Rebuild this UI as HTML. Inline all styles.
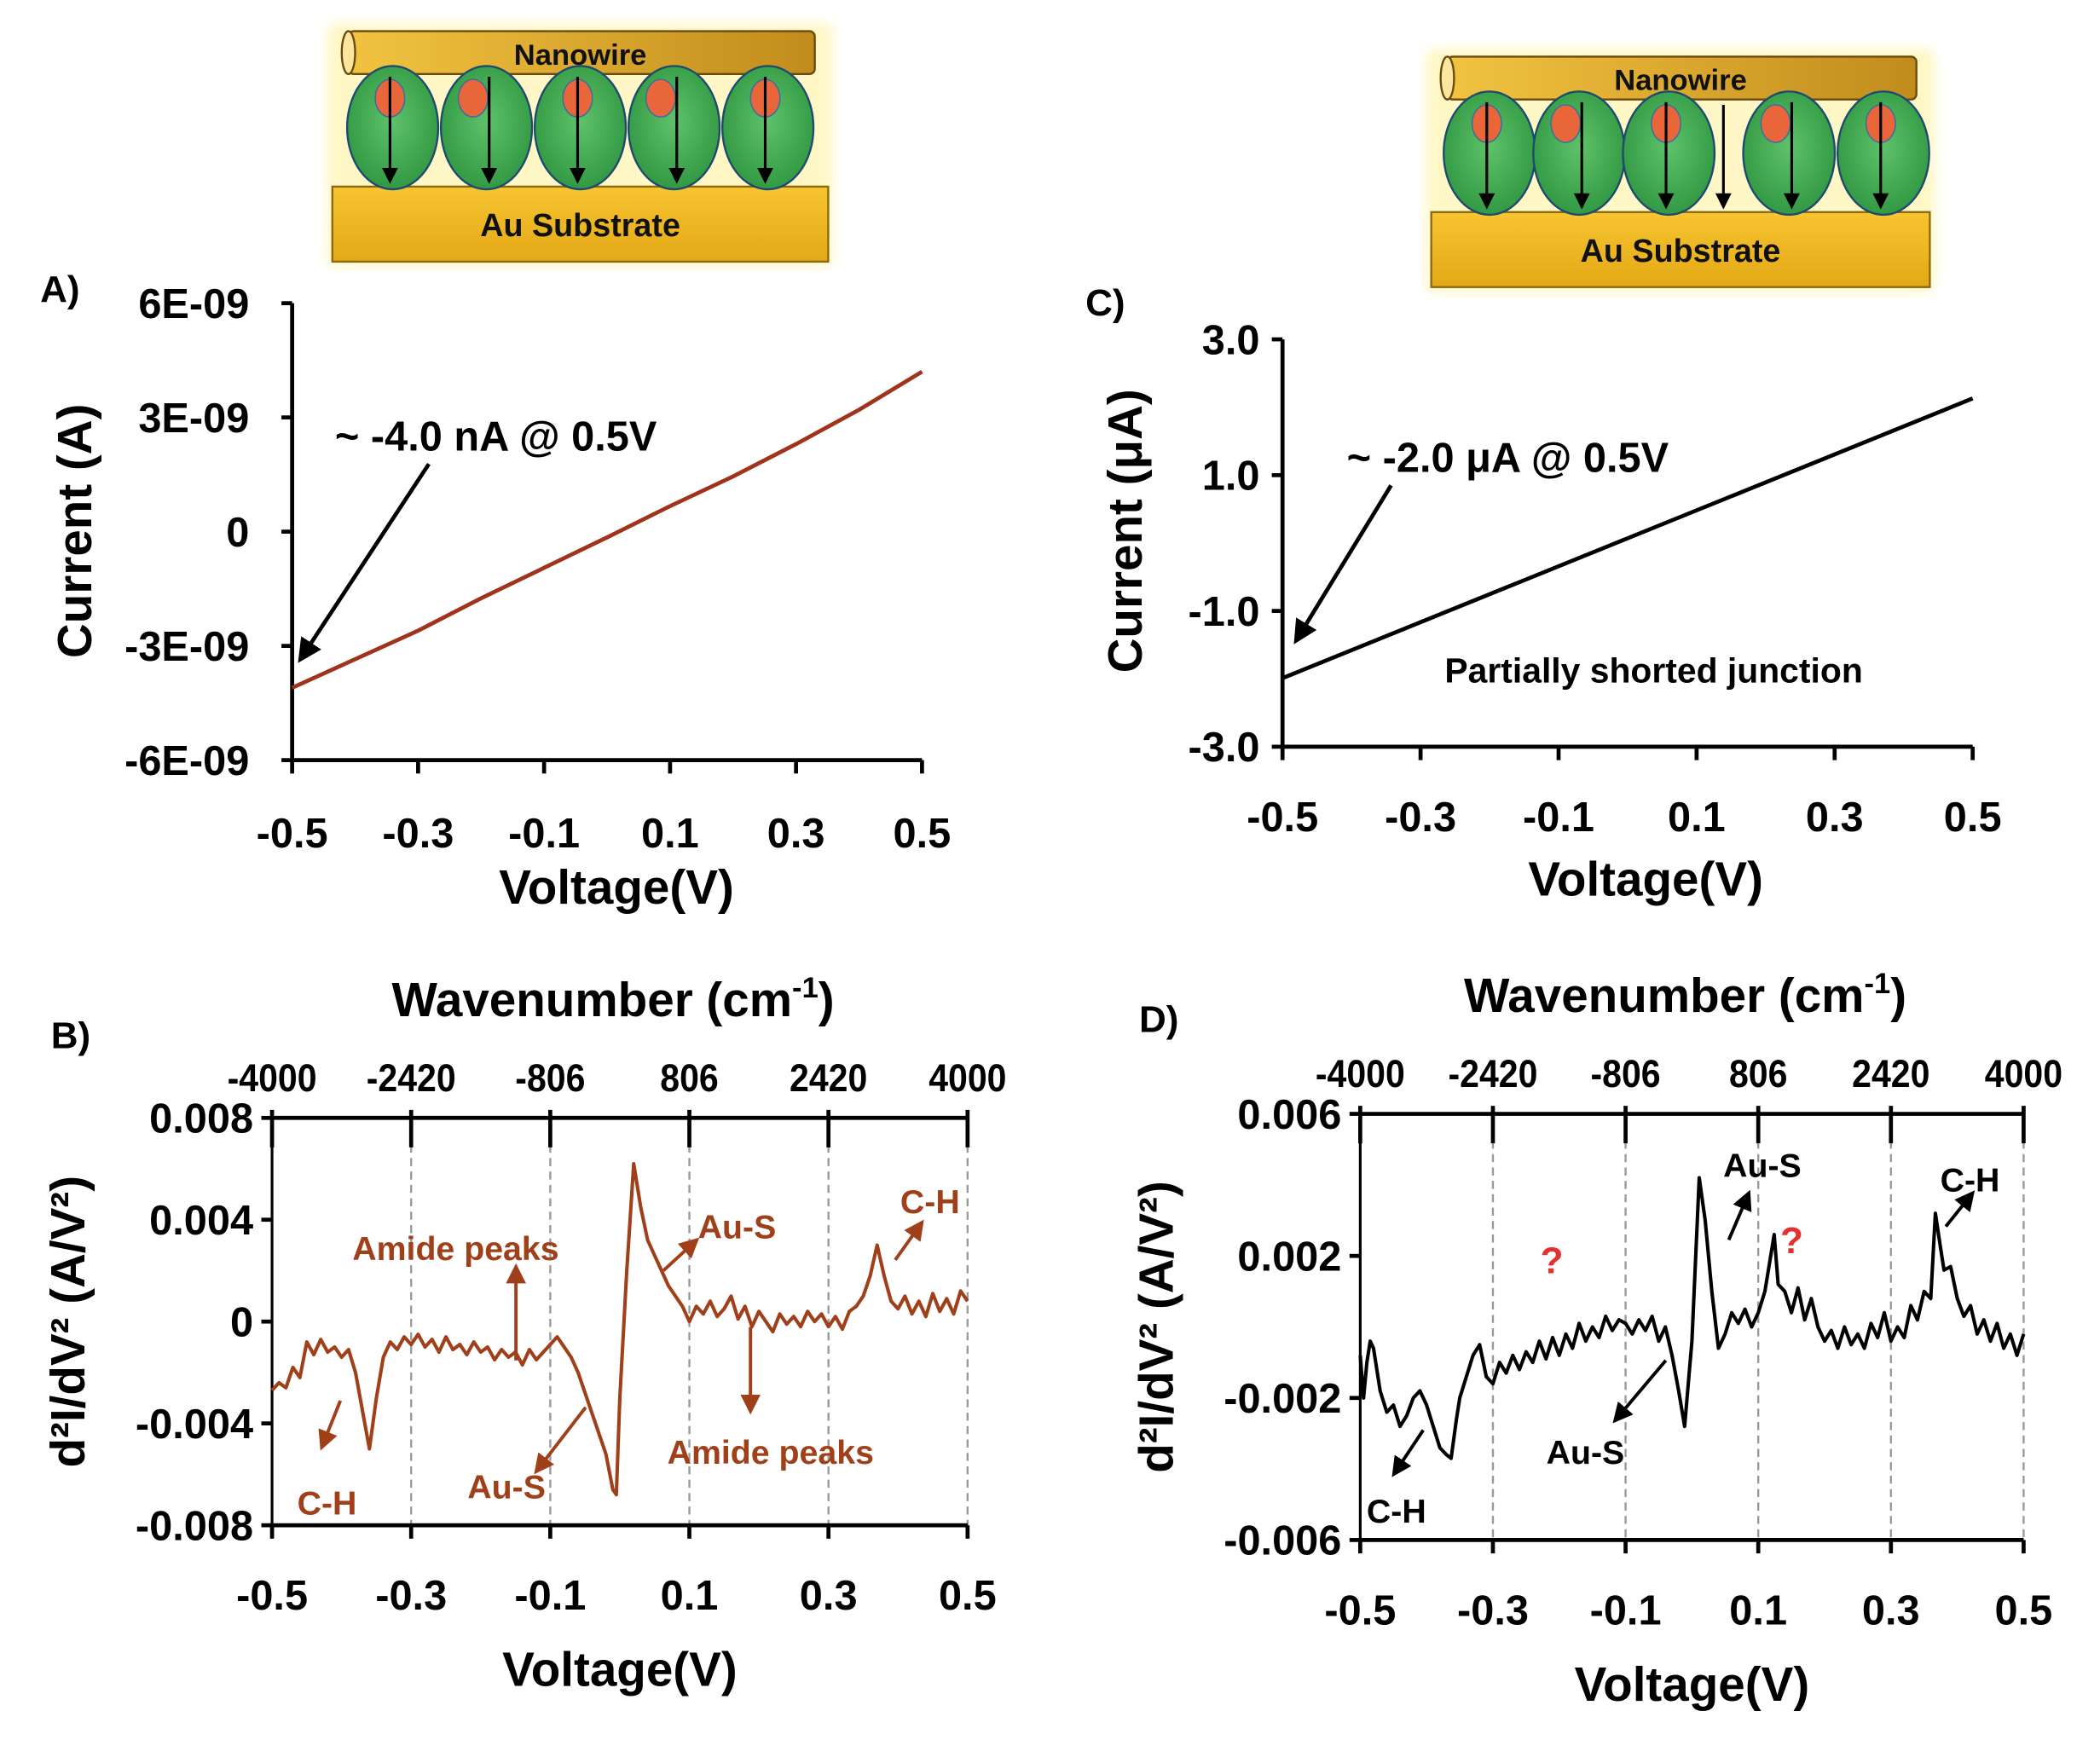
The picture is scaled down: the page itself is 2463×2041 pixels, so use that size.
<!DOCTYPE html>
<html><head><meta charset="utf-8"><style>
html,body{margin:0;padding:0;background:#fff}
svg{display:block}
text{font-family:"Liberation Sans",sans-serif;font-weight:bold}
</style></head><body>
<svg id="fig" width="2463" height="2041" viewBox="0 0 1567 1298" xmlns="http://www.w3.org/2000/svg">
<defs>
<linearGradient id="gold" x1="0" y1="0" x2="0" y2="1"><stop offset="0" stop-color="#f7c531"/><stop offset="1" stop-color="#e3a816"/></linearGradient>
<linearGradient id="wire" x1="0" y1="0" x2="1" y2="0"><stop offset="0" stop-color="#f2c341"/><stop offset="1" stop-color="#c18c1c"/></linearGradient>
<radialGradient id="cell" cx="0.5" cy="0.45" r="0.6"><stop offset="0" stop-color="#5fc26a"/><stop offset="1" stop-color="#2f9540"/></radialGradient>
<filter id="blur" x="-10%" y="-10%" width="120%" height="120%"><feGaussianBlur stdDeviation="4"/></filter>
<marker id="ahk" markerWidth="6" markerHeight="6" refX="5" refY="3" orient="auto"><path d="M0,0 L6,3 L0,6 z" fill="#000"/></marker>
<marker id="ahb" markerWidth="6" markerHeight="6" refX="5" refY="3" orient="auto"><path d="M0,0 L6,3 L0,6 z" fill="#a0401a"/></marker>
</defs>
<g id="cartoons"></g>
<g id="root"></g>
</svg>
<script>
// ---- Panel A data ----
const aVolt = [-0.5,-0.4,-0.3,-0.2,-0.1,0,0.1,0.2,0.3,0.4,0.5];
const aCurr = [-4.1e-9,-3.35e-9,-2.6e-9,-1.75e-9,-0.95e-9,-0.15e-9,0.67e-9,1.45e-9,2.3e-9,3.2e-9,4.2e-9];
const aYTicks = [6e-9,3e-9,0,-3e-9,-6e-9];
const aYLabels = ["6E-09","3E-09","0","-3E-09","-6E-09"];
const vTicks = [-0.5,-0.3,-0.1,0.1,0.3,0.5];
const vLabels = ["-0.5","-0.3","-0.1","0.1","0.3","0.5"];
// ---- Panel C data ----
const cVolt = [-0.5,0.5];
const cCurr = [-1.99,2.13];
const cYTicks = [3,1,-1,-3];
const cYLabels = ["3.0","1.0","-1.0","-3.0"];
// ---- Wavenumber top axis ----
const wnLabels = ["-4000","-2420","-806","806","2420","4000"];
// ---- Panel B data ----
const bVolt = [-0.5,-0.49,-0.48,-0.47,-0.46,-0.45,-0.44,-0.43,-0.42,-0.41,-0.40,-0.39,-0.38,-0.37,-0.36,-0.35,-0.34,-0.33,-0.32,-0.31,-0.30,-0.29,-0.28,-0.27,-0.26,-0.25,-0.24,-0.23,-0.22,-0.21,-0.20,-0.19,-0.18,-0.17,-0.16,-0.15,-0.14,-0.13,-0.12,-0.11,-0.10,-0.09,-0.08,-0.07,-0.06,-0.05,-0.04,-0.03,-0.02,-0.01,-0.005,0.0,0.01,0.02,0.03,0.04,0.05,0.06,0.07,0.08,0.09,0.10,0.11,0.12,0.13,0.14,0.15,0.16,0.17,0.18,0.19,0.20,0.21,0.22,0.23,0.24,0.25,0.26,0.27,0.28,0.29,0.30,0.31,0.32,0.33,0.34,0.35,0.36,0.37,0.38,0.39,0.40,0.41,0.42,0.43,0.44,0.45,0.46,0.47,0.48,0.49,0.5];
const bVal = [-0.0027,-0.0024,-0.0026,-0.0018,-0.0022,-0.0008,-0.0013,-0.0007,-0.0012,-0.0010,-0.0014,-0.0011,-0.0020,-0.0035,-0.0050,-0.0030,-0.0014,-0.0008,-0.0011,-0.0006,-0.0009,-0.0005,-0.0010,-0.0007,-0.0012,-0.0006,-0.0011,-0.0009,-0.0013,-0.0008,-0.0012,-0.0010,-0.0015,-0.0011,-0.0014,-0.0012,-0.0017,-0.0011,-0.0015,-0.0012,-0.0009,-0.0006,-0.0010,-0.0014,-0.0020,-0.0028,-0.0036,-0.0044,-0.0052,-0.0066,-0.0068,-0.0030,0.0020,0.0062,0.0045,0.0032,0.0026,0.0020,0.0014,0.0010,0.0006,0.0000,0.0006,0.0003,0.0008,0.0002,0.0005,0.0010,0.0001,0.0006,-0.0002,0.0004,0.0000,-0.0004,0.0003,-0.0001,0.0002,-0.0002,0.0004,0.0000,0.0003,-0.0002,0.0002,-0.0003,0.0004,0.0006,0.0010,0.0018,0.0030,0.0018,0.0008,0.0005,0.0010,0.0003,0.0008,0.0002,0.0011,0.0004,0.0009,0.0003,0.0012,0.0008];
const bYTicks = [0.008,0.004,0,-0.004,-0.008];
const bYLabels = ["0.008","0.004","0","-0.004","-0.008"];
// ---- Panel D data ----
const dVolt = [-0.5,-0.495,-0.49,-0.485,-0.48,-0.47,-0.46,-0.45,-0.44,-0.43,-0.42,-0.41,-0.40,-0.39,-0.38,-0.37,-0.363,-0.355,-0.35,-0.34,-0.33,-0.32,-0.31,-0.30,-0.29,-0.28,-0.27,-0.26,-0.25,-0.24,-0.23,-0.22,-0.21,-0.20,-0.19,-0.18,-0.17,-0.16,-0.15,-0.14,-0.13,-0.12,-0.11,-0.10,-0.09,-0.08,-0.07,-0.06,-0.05,-0.04,-0.03,-0.02,-0.011,0.0,0.011,0.02,0.03,0.04,0.05,0.06,0.07,0.08,0.09,0.10,0.11,0.124,0.13,0.14,0.15,0.16,0.17,0.18,0.19,0.20,0.21,0.22,0.23,0.24,0.25,0.26,0.27,0.28,0.29,0.30,0.31,0.32,0.33,0.34,0.35,0.36,0.367,0.375,0.38,0.39,0.40,0.41,0.42,0.43,0.44,0.45,0.46,0.47,0.48,0.49,0.5];
const dVal = [-0.0008,-0.0020,-0.0010,-0.0004,-0.0006,-0.0018,-0.0024,-0.0022,-0.0028,-0.0025,-0.0020,-0.0018,-0.0022,-0.0028,-0.0034,-0.0036,-0.0037,-0.0026,-0.0020,-0.0014,-0.0008,-0.0005,-0.0014,-0.0016,-0.0010,-0.0013,-0.0008,-0.0012,-0.0007,-0.0010,-0.0004,-0.0009,-0.0003,-0.0008,-0.0002,-0.0006,0.0001,-0.0004,0.0000,-0.0003,0.0003,-0.0001,0.0002,0.0001,-0.0002,0.0002,-0.0001,0.0003,-0.0004,0.0000,-0.0008,-0.0018,-0.0028,-0.0004,0.0042,0.0030,0.0010,-0.0006,-0.0002,0.0004,0.0001,0.0005,0.0000,0.0004,0.0010,0.0026,0.0012,0.0010,0.0004,0.0011,0.0002,0.0008,0.0000,-0.0004,-0.0001,-0.0006,0.0000,-0.0005,-0.0002,-0.0006,0.0001,-0.0003,0.0004,-0.0004,0.0000,-0.0003,0.0006,0.0002,0.0010,0.0008,0.0032,0.0022,0.0016,0.0017,0.0008,0.0003,0.0006,-0.0002,0.0002,-0.0004,0.0001,-0.0006,-0.0002,-0.0008,-0.0002];
const dYTicks = [0.006,0.002,-0.002,-0.006];
const dYLabels = ["0.006","0.002","-0.002","-0.006"];

const NS="http://www.w3.org/2000/svg";
const root=document.getElementById('root');
function mk(tag,attrs,parent,txt){const e=document.createElementNS(NS,tag);for(const k in attrs)e.setAttribute(k,attrs[k]);if(txt!==undefined)e.textContent=txt;(parent||root).appendChild(e);return e;}
function lin(d0,d1,r0,r1){return v=>r0+(v-d0)/(d1-d0)*(r1-r0);}

// ===== Cartoons =====
const cg=document.getElementById('cartoons');
function cartoon(x0,y0,w,gapArrow,name){
  const g=mk('g',{},cg);
  
  
  mk('rect',{x:x0-4,y:y0-6,width:w+8,height:182,fill:'#fff2a0',rx:8,opacity:0.6,filter:'url(#blur)'},g);
  mk('rect',{x:x0+12,y:y0,width:w-22,height:32,fill:'url(#wire)',stroke:'#6b4a10','stroke-width':1.5,rx:4},g);
  mk('ellipse',{cx:x0+12,cy:y0+16,rx:5,ry:16,fill:'#fbe6a0',stroke:'#6b4a10','stroke-width':1.5},g);
  const t1=mk('text',{x:x0+w/2,y:y0+25,'font-size':22,'text-anchor':'middle',fill:'#111'},g,'Nanowire');
  
  mk('rect',{x:x0,y:y0+116,width:w,height:56,fill:'url(#gold)',stroke:'#8a6a10','stroke-width':1.5},g);
  const t2=mk('text',{x:x0+w/2,y:y0+153,'font-size':24,'text-anchor':'middle',fill:'#111'},g,'Au Substrate');
  
  const n=5, step=(w-20)/n;
  for(let i=0;i<n;i++){
    let cx=x0+10+step*(i+0.5);
    if(gapArrow){cx = i<3? x0+10+step*0.95*(i+0.5) : x0+10+step*(i+0.5)+step*0.15;}
    mk('ellipse',{cx:cx,cy:y0+72,rx:step/2-1,ry:46,fill:'url(#cell)',stroke:'#1d4a6e','stroke-width':1.5},g);
    const ox=cx+(i%2?-10:-2);
    mk('ellipse',{cx:ox,cy:y0+50,rx:11,ry:14,fill:'#e8663a',stroke:'#3a6fa0','stroke-width':1},g);
    mk('line',{x1:cx-2+(i%2?4:0),y1:y0+34,x2:cx-2+(i%2?4:0),y2:y0+112,stroke:'#000','stroke-width':2,'marker-end':'url(#ahk)'},g);
  }
  if(gapArrow){mk('line',{x1:x0+w/2+32,y1:y0+36,x2:x0+w/2+32,y2:y0+112,stroke:'#000','stroke-width':2,'marker-end':'url(#ahk)'},g);}
}
cartoon(248,23,370,false,'junction-cartoon-a');
cartoon(1068,42,372,true,'junction-cartoon-c');

function label(x,y,txt,size,name,opts){
  const a=Object.assign({x:x,y:y,'font-size':size,fill:'#000','text-anchor':'middle'},opts||{});
  const t=mk('text',a,null,txt);
  
  
  return t;
}
function vlabel(x,y,txt,size,name){
  const t=mk('text',{x:0,y:0,'font-size':size,fill:'#000','text-anchor':'middle',transform:`translate(${x},${y}) rotate(-90)`},null,'');
  t.innerHTML=txt;
  
  
  return t;
}

// ===== Panel A =====
(function(){
  const X=lin(-0.5,0.5,218,688), Y=lin(-6e-9,6e-9,567,226);
  const g=mk('g',{});
  
  mk('line',{x1:218,y1:226,x2:218,y2:567,stroke:'#000','stroke-width':3},g);
  mk('line',{x1:218,y1:567,x2:688,y2:567,stroke:'#000','stroke-width':3},g);
  aYTicks.forEach((v,i)=>{mk('line',{x1:210,y1:Y(v),x2:218,y2:Y(v),stroke:'#000','stroke-width':3},g);
    label(186,Y(v)+11,aYLabels[i],31,'y-tick-label',{'text-anchor':'end'});});
  vTicks.forEach((v,i)=>{mk('line',{x1:X(v),y1:567,x2:X(v),y2:577,stroke:'#000','stroke-width':3},g);
    label(X(v),632,vLabels[i],31,'x-tick-label');});
  const pts=aVolt.map((v,i)=>X(v)+','+Y(aCurr[i])).join(' ');
  const pl=mk('polyline',{points:pts,fill:'none',stroke:'#a0331c','stroke-width':3},g);
  
  label(30,225,'A)',28,'panel-a-letter',{'text-anchor':'start'});
  vlabel(68,396,'Current (A)',36,'y-axis-title-a');
  label(460,674,'Voltage(V)',36,'x-axis-title-a');
  label(250,336,'~ -4.0 nA @ 0.5V',31,'annotation-a',{'text-anchor':'start'});
  mk('line',{x1:320,y1:346,x2:224,y2:492,stroke:'#000','stroke-width':3,'marker-end':'url(#ahk)'},g);
})();

// ===== Panel C =====
(function(){
  const X=lin(-0.5,0.5,957,1472), Y=lin(-3,3,557,253);
  const g=mk('g',{});
  
  mk('line',{x1:957,y1:253,x2:957,y2:557,stroke:'#000','stroke-width':3},g);
  mk('line',{x1:957,y1:557,x2:1472,y2:557,stroke:'#000','stroke-width':3},g);
  cYTicks.forEach((v,i)=>{mk('line',{x1:949,y1:Y(v),x2:957,y2:Y(v),stroke:'#000','stroke-width':3},g);
    label(940,Y(v)+11,cYLabels[i],31,'y-tick-label',{'text-anchor':'end'});});
  vTicks.forEach((v,i)=>{mk('line',{x1:X(v),y1:557,x2:X(v),y2:567,stroke:'#000','stroke-width':3},g);
    label(X(v),620,vLabels[i],31,'x-tick-label');});
  const pts=cVolt.map((v,i)=>X(v)+','+Y(cCurr[i])).join(' ');
  const pl=mk('polyline',{points:pts,fill:'none',stroke:'#000','stroke-width':3},g);
  
  label(810,235,'C)',28,'panel-c-letter',{'text-anchor':'start'});
  vlabel(852,396,'Current (μA)',36,'y-axis-title-c');
  label(1228,668,'Voltage(V)',36,'x-axis-title-c');
  label(1005,352,'~ -2.0 μA @ 0.5V',31,'annotation-c',{'text-anchor':'start'});
  label(1078,509,'Partially shorted junction',26,'shorted-junction-label',{'text-anchor':'start'});
  mk('line',{x1:1038,y1:362,x2:967,y2:478,stroke:'#000','stroke-width':3,'marker-end':'url(#ahk)'},g);
})();

// ===== Spectrum panels =====
function spectrum(cfg){
  const X=lin(-0.5,0.5,cfg.x0,cfg.x1), Y=lin(cfg.ymin,cfg.ymax,cfg.yb,cfg.yt);
  const g=mk('g',{});
  
  vTicks.forEach(v=>{mk('line',{x1:X(v),y1:cfg.yt,x2:X(v),y2:cfg.yb,stroke:'#999','stroke-width':1.5,'stroke-dasharray':'6,4'},g);});
  mk('line',{x1:cfg.x0,y1:cfg.yt,x2:cfg.x1,y2:cfg.yt,stroke:'#000','stroke-width':3},g);
  mk('line',{x1:cfg.x0,y1:cfg.yb,x2:cfg.x1,y2:cfg.yb,stroke:'#000','stroke-width':3},g);
  mk('line',{x1:cfg.x0,y1:cfg.yt,x2:cfg.x0,y2:cfg.yb,stroke:'#000','stroke-width':2},g);
  cfg.yTicks.forEach((v,i)=>{mk('line',{x1:cfg.x0-8,y1:Y(v),x2:cfg.x0,y2:Y(v),stroke:'#000','stroke-width':3},g);
    label(cfg.x0-14,Y(v)+11,cfg.yLabels[i],31,'y-tick-label',{'text-anchor':'end'});});
  vTicks.forEach((v,i)=>{
    mk('line',{x1:X(v),y1:cfg.yt-6,x2:X(v),y2:cfg.yt+22,stroke:'#000','stroke-width':3},g);
    mk('line',{x1:X(v),y1:cfg.yb,x2:X(v),y2:cfg.yb+10,stroke:'#000','stroke-width':3},g);
    label(X(v),cfg.yb+63,vLabels[i],31,'x-tick-label');
    const tl=label(X(v),cfg.yt-20,wnLabels[i],29,'top-tick-label');
    tl.setAttribute('transform',`translate(${X(v)*0.1},0) scale(0.9,1)`);
  });
  const pts=cfg.xs.map((v,i)=>X(v)+','+Y(cfg.ys[i])).join(' ');
  const pl=mk('polyline',{points:pts,fill:'none',stroke:cfg.color,'stroke-width':2.6,'stroke-linejoin':'round'},g);
  
  const tt=label((cfg.x0+cfg.x1)/2-5,cfg.yt-76,'',36,'top-axis-title');
  tt.innerHTML='Wavenumber (cm<tspan font-size="22" dy="-14">-1</tspan><tspan dy="14">)</tspan>';
  label((cfg.x0+cfg.x1)/2,cfg.yb+120,'Voltage(V)',36,'x-axis-title');
  vlabel(cfg.x0-140,(cfg.yt+cfg.yb)/2,'d²I/dV² (A/V²)',36,'y-axis-title');
  return {X,Y,g};
}
// Panel B
(function(){
  const C='#a0401a';
  const s=spectrum({name:'panel-b-plot',x0:203,x1:722,yt:834,yb:1138,ymin:-0.008,ymax:0.008,yTicks:bYTicks,yLabels:bYLabels,xs:bVolt,ys:bVal,color:C});
  label(38,782,'B)',28,'panel-b-letter',{'text-anchor':'start'});
  const an=[[340,940,'Amide peaks','annotation-amide-1'],[575,1092,'Amide peaks','annotation-amide-2'],[378,1118,'Au-S','annotation-aus-1'],[550,924,'Au-S','annotation-aus-2'],[244,1130,'C-H','annotation-ch-1'],[694,905,'C-H','annotation-ch-2']];
  an.forEach(a=>label(a[0],a[1],a[2],25,a[3],{fill:C}));
  [[385,1015,385,945],[560,990,560,1053],[437,1050,400,1098],[495,948,520,925],[254,1045,240,1080],[668,940,688,912]].forEach(l=>mk('line',{x1:l[0],y1:l[1],x2:l[2],y2:l[3],stroke:C,'stroke-width':2.5,'marker-end':'url(#ahb)'},s.g));
})();
// Panel D
(function(){
  const s=spectrum({name:'panel-d-plot',x0:1015,x1:1510,yt:831,yb:1149,ymin:-0.006,ymax:0.006,yTicks:dYTicks,yLabels:dYLabels,xs:dVolt,ys:dVal,color:'#000'});
  label(850,770,'D)',28,'panel-d-letter',{'text-anchor':'start'});
  label(1315,878,'Au-S',25,'annotation-aus-1');
  label(1183,1092,'Au-S',25,'annotation-aus-2');
  label(1042,1136,'C-H',25,'annotation-ch-1');
  label(1470,889,'C-H',25,'annotation-ch-2');
  label(1158,950,'?',28,'unknown-peak-1',{fill:'#e53030'});
  label(1337,935,'?',28,'unknown-peak-2',{fill:'#e53030'});
  [[1290,925,1305,890],[1243,1015,1205,1060],[1062,1067,1040,1100],[1452,915,1472,890]].forEach(l=>mk('line',{x1:l[0],y1:l[1],x2:l[2],y2:l[3],stroke:'#000','stroke-width':2.5,'marker-end':'url(#ahk)'},s.g));
})();
</script>
</body></html>
